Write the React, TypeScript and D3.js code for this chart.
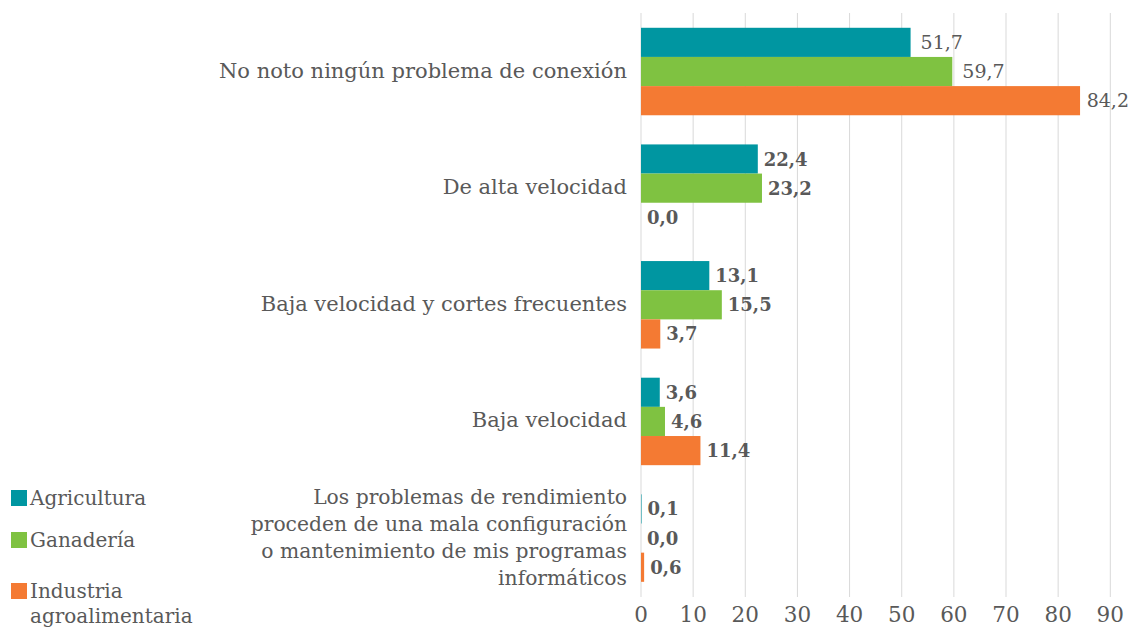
import React from "react";
import * as d3 from "d3";

const categories: string[][] = [
  ["No noto ningún problema de conexión"],
  ["De alta velocidad"],
  ["Baja velocidad y cortes frecuentes"],
  ["Baja velocidad"],
  [
    "Los problemas de rendimiento",
    "proceden de una mala configuración",
    "o mantenimiento de mis programas",
    "informáticos",
  ],
];
const seriesNames = ["Agricultura", "Ganadería", "Industria agroalimentaria"];
const agricultura = [51.7, 22.4, 13.1, 3.6, 0.1];
const ganaderia = [59.7, 23.2, 15.5, 4.6, 0.0];
const industria = [84.2, 0.0, 3.7, 11.4, 0.6];
const ticks = [0, 10, 20, 30, 40, 50, 60, 70, 80, 90];
const colors = ["#0096A1", "#7FC241", "#F47A33"];

const W = 1131;
const H = 627;
const FONT = "DejaVu Serif";
const TEXT = "#595959";

export default function App() {
  const series = [agricultura, ganaderia, industria];
  const x = d3.scaleLinear().domain([0, 90]).range([641, 1110.3]);
  const y = d3
    .scaleBand<number>()
    .domain(d3.range(categories.length))
    .range([13.2, 596.4])
    .paddingInner(0.25)
    .paddingOuter(0.125);
  const sub = d3.scaleBand<number>().domain([0, 1, 2]).range([0, y.bandwidth()]);
  const fmt = (v: number) => v.toFixed(1).replace(".", ",");

  return (
    <svg
      width={W}
      height={H}
      style={{ position: "absolute", left: 0, top: 0 }}
    >
      <rect width={W} height={H} fill="#fff" />
      {ticks.map((t) => (
        <g key={t}>
          <line x1={x(t)} x2={x(t)} y1={13} y2={597} stroke="#D9D9D9" strokeWidth={1} />
          <text x={x(t)} y={622} textAnchor="middle" fontSize={21.5} fontFamily={FONT} fontWeight={400} fill={TEXT}>
            {t}
          </text>
        </g>
      ))}
      {categories.map((lines, i) => {
        const cy = (y(i) as number) + y.bandwidth() / 2;
        const lh = 27;
        const y0 = cy - ((lines.length - 1) * lh) / 2;
        return (
          <text key={i} textAnchor="end" fontSize={lines.length > 1 ? 20.3 : 21} fontFamily={FONT} fontWeight={400} fill={TEXT}>
            {lines.map((l, k) => (
              <tspan key={k} x={627} y={y0 + k * lh + 6}>
                {l}
              </tspan>
            ))}
          </text>
        );
      })}
      {series.map((vals, s) =>
        vals.map((v, i) => {
          const by = (y(i) as number) + (sub(s) as number);
          const bh = sub.bandwidth();
          const xe = x(v);
          const bold = i > 0;
          let lx = xe + (bold ? 6 : 10);
          let anchor: "start" | "end" = "start";
          if (lx + 44 > W - 2) {
            lx = W - 2;
            anchor = "end";
          }
          return (
            <g key={`${s}-${i}`}>
              <rect x={x(0)} y={by} width={Math.max(0, xe - x(0))} height={bh} fill={colors[s]} />
              <text
                x={lx}
                y={by + bh / 2 + 6.5}
                textAnchor={anchor}
                fontSize={bold ? 18 : 19}
                fontFamily={FONT}
                fontWeight={bold ? 700 : 400}
                fill={TEXT}
              >
                {fmt(v)}
              </text>
            </g>
          );
        })
      )}
      {[
        { name: ["Agricultura"], y: 498 },
        { name: ["Ganadería"], y: 540 },
        { name: ["Industria", "agroalimentaria"], y: 591 },
      ].map((d, s) => (
        <g key={s}>
          <rect x={11} y={d.y - 8} width={16} height={16} fill={colors[s]} />
          <text fontSize={20} fontFamily={FONT} fontWeight={400} fill={TEXT}>
            {d.name.map((l, k) => (
              <tspan key={k} x={30} y={d.y + 7 + k * 25}>
                {l}
              </tspan>
            ))}
          </text>
        </g>
      ))}
    </svg>
  );
}
